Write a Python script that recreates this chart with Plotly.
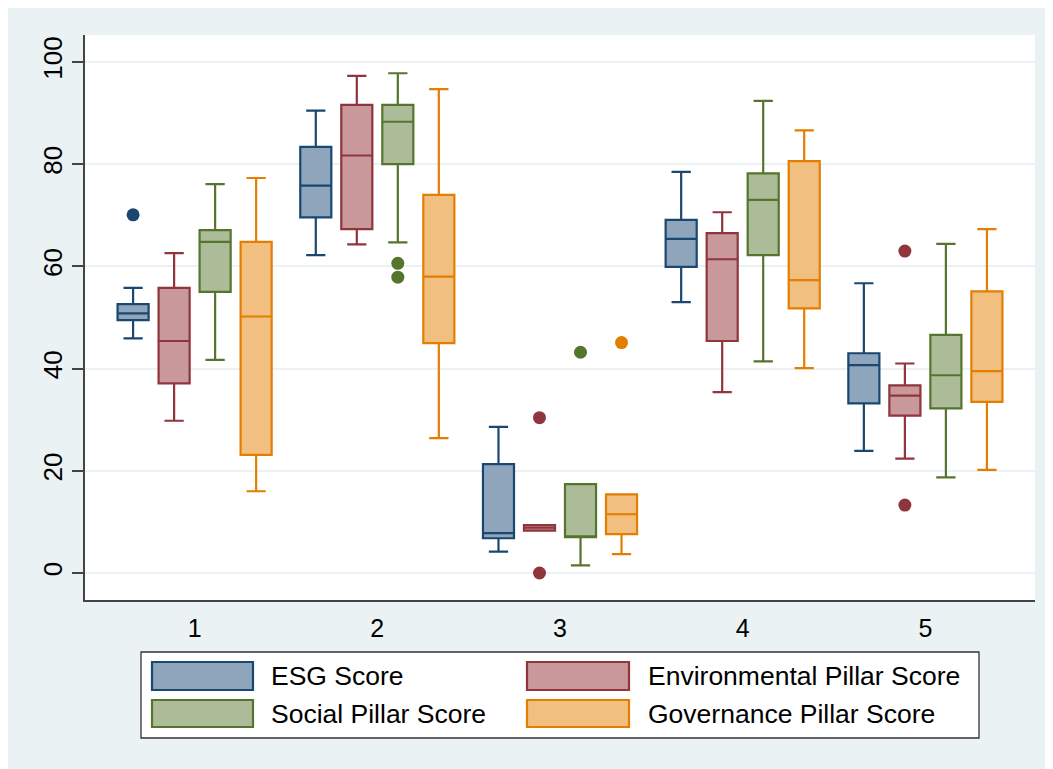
import plotly.graph_objects as go

# ---------------- data ----------------
groups = [1, 2, 3, 4, 5]
tick_labels = ["1", "2", "3", "4", "5"]
series_names = ["ESG Score", "Environmental Pillar Score", "Social Pillar Score", "Governance Pillar Score"]

esg_lower = [45.9, 62.2, 4.2, 53.0, 23.9]
esg_q1 = [49.5, 69.6, 6.8, 59.9, 33.2]
esg_median = [50.8, 75.8, 7.8, 65.4, 40.7]
esg_q3 = [52.6, 83.4, 21.3, 69.1, 43.0]
esg_upper = [55.8, 90.5, 28.6, 78.5, 56.7]
esg_out_groups = [1]
esg_out_values = [70.1]

env_lower = [29.8, 64.3, 8.3, 35.4, 22.4]
env_q1 = [37.1, 67.3, 8.3, 45.4, 30.8]
env_median = [45.4, 81.7, 8.9, 61.4, 34.7]
env_q3 = [55.8, 91.6, 9.4, 66.5, 36.7]
env_upper = [62.6, 97.3, 9.4, 70.6, 41.0]
env_out_groups = [3, 3, 5, 5]
env_out_values = [30.4, 0.0, 63.0, 13.3]

soc_lower = [41.7, 64.7, 1.5, 41.4, 18.7]
soc_q1 = [55.0, 80.0, 7.0, 62.2, 32.2]
soc_median = [64.8, 88.3, 7.0, 73.0, 38.7]
soc_q3 = [67.1, 91.6, 17.4, 78.2, 46.6]
soc_upper = [76.1, 97.8, 17.4, 92.4, 64.4]
soc_out_groups = [2, 2, 3]
soc_out_values = [60.6, 57.9, 43.2]

gov_lower = [16.0, 26.4, 3.7, 40.1, 20.2]
gov_q1 = [23.1, 45.0, 7.6, 51.8, 33.5]
gov_median = [50.2, 58.0, 11.5, 57.3, 39.5]
gov_q3 = [64.8, 74.0, 15.4, 80.6, 55.1]
gov_upper = [77.3, 94.7, 15.4, 86.6, 67.3]
gov_out_groups = [3]
gov_out_values = [45.1]

y_ticks = [0, 20, 40, 60, 80, 100]

# ---------------- styles ----------------
line_colors = ["#1A476F", "#90353B", "#55752F", "#E37E00"]
fill_colors = ["#8EA5BC", "#C8989B", "#ADBC98", "#F1BF80"]
BG = "#EAF2F3"
FONT = "Liberation Sans, Arial, sans-serif"

OFF = 8  # page body margin
W, H = 1053, 769
ML = 85 - OFF
MT = 35 - OFF
MR = W - (1035 - OFF)
MB = H - (600 - OFF)
PW, PH = W - ML - MR, H - MT - MB

slot = 0.2245
box_w = 0.17

stats = [
    (esg_lower, esg_q1, esg_median, esg_q3, esg_upper, esg_out_groups, esg_out_values),
    (env_lower, env_q1, env_median, env_q3, env_upper, env_out_groups, env_out_values),
    (soc_lower, soc_q1, soc_median, soc_q3, soc_upper, soc_out_groups, soc_out_values),
    (gov_lower, gov_q1, gov_median, gov_q3, gov_upper, gov_out_groups, gov_out_values),
]

fig = go.Figure()
for i, (lo, q1, med, q3, up, og, ov) in enumerate(stats):
    off = (i - 1.5) * slot
    fig.add_trace(go.Box(
        x=[g + off for g in groups],
        lowerfence=lo, q1=q1, median=med, q3=q3, upperfence=up,
        width=box_w, whiskerwidth=0.62,
        fillcolor=fill_colors[i],
        line=dict(color=line_colors[i], width=2.2),
        boxpoints=False, name=series_names[i], showlegend=False,
        hoverinfo="skip",
    ))
    fig.add_trace(go.Scatter(
        x=[g + off for g in og], y=ov, mode="markers",
        marker=dict(color=line_colors[i], size=13),
        showlegend=False, hoverinfo="skip",
    ))

def px_x(px):
    return (px - OFF - ML) / PW

def px_y(py):
    return (H - MB - (py - OFF)) / PH

shapes = []
# legend frame
shapes.append(dict(type="rect", xref="paper", yref="paper", x0=px_x(141), x1=px_x(979), y0=px_y(738), y1=px_y(652),
                   fillcolor="white", line=dict(color="#333333", width=1.3)))
annotations = []
key_cols = [(152, 253, 269), (527, 629, 646)]
key_rows = [(662, 690), (700, 727)]
order = [(0, 0), (0, 1), (1, 0), (1, 1)]  # (row, col) for series order
for i, (r, c) in enumerate(order):
    kx0, kx1, tx = key_cols[c]
    ky0, ky1 = key_rows[r]
    shapes.append(dict(type="rect", xref="paper", yref="paper",
                       x0=px_x(kx0), x1=px_x(kx1), y0=px_y(ky1), y1=px_y(ky0),
                       fillcolor=fill_colors[i], line=dict(color=line_colors[i], width=2.2)))
    annotations.append(dict(xref="paper", yref="paper", x=px_x(tx), y=px_y((ky0 + ky1) / 2),
                            text=series_names[i], showarrow=False, xanchor="left", yanchor="middle",
                            font=dict(family=FONT, size=26.5, color="black")))

fig.update_layout(
    width=W, height=H,
    margin=dict(l=ML, r=MR, t=MT, b=MB, pad=0),
    paper_bgcolor=BG, plot_bgcolor="white",
    boxmode="overlay",
    showlegend=False,
    shapes=shapes, annotations=annotations,
    font=dict(family=FONT, size=25, color="black"),
)
fig.update_xaxes(
    range=[0.4, 5.6], tickvals=groups, ticktext=tick_labels,
    showgrid=False, zeroline=False,
    showline=True, linecolor="#444444", linewidth=1.5,
    ticks="outside", ticklen=5, tickcolor="rgba(0,0,0,0)",
    tickfont=dict(family=FONT, size=25, color="black"),
)
fig.update_yaxes(
    range=[-5.28, 105.28], tickvals=y_ticks,
    showgrid=True, gridcolor=BG, gridwidth=2, zeroline=False,
    showline=True, linecolor="#444444", linewidth=1.5,
    ticks="outside", ticklen=11, tickcolor="#444444", tickwidth=1.5,
    tickangle=-90,
    tickfont=dict(family=FONT, size=26, color="black"),
)

fig.write_html("out.html")
